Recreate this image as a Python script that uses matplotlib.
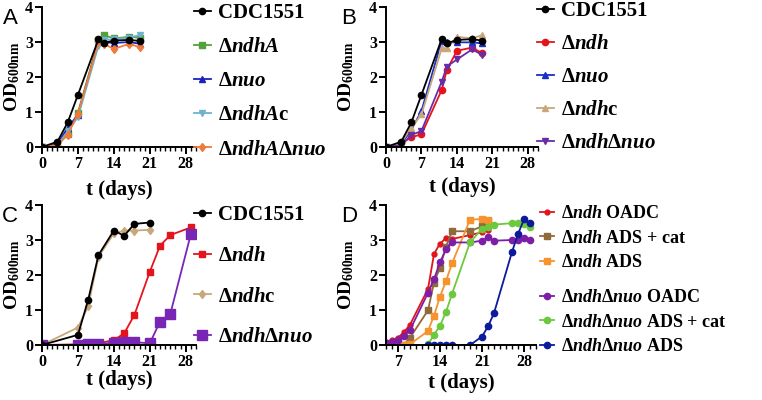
import matplotlib
matplotlib.use("Agg")
import matplotlib.pyplot as plt
from matplotlib.ticker import MultipleLocator

plt.rcParams['font.family'] = 'Liberation Serif'
plt.rcParams['font.weight'] = 'bold'
plt.rcParams['axes.labelweight'] = 'bold'
plt.rcParams['mathtext.fontset'] = 'custom'
plt.rcParams['mathtext.rm'] = 'Liberation Serif:bold'
plt.rcParams['mathtext.it'] = 'Liberation Serif:bold:italic'
plt.rcParams['mathtext.bf'] = 'Liberation Serif:bold'
plt.rcParams['mathtext.default'] = 'rm'

# ---- panel A ----
days_a = [0, 3, 5, 7, 11, 12, 14, 17, 19]
a_cdc = [0, 0.15, 0.70, 1.49, 3.08, 2.97, 3.04, 3.06, 3.03]
a_ndhA = [0, 0.05, 0.38, 0.98, 3.05, 3.20, 3.10, 3.15, 3.12]
a_nuo = [0, 0.08, 0.55, 0.92, 3.00, 3.00, 2.97, 3.00, 2.95]
a_ndhAc = [0, 0.05, 0.45, 0.85, 2.90, 3.05, 3.08, 3.12, 3.20]
a_dbl = [0, 0.05, 0.35, 0.95, 3.00, 2.95, 2.80, 2.95, 2.85]
labels_a = ['CDC1551', r'$\Delta\mathit{ndhA}$', r'$\Delta\mathit{nuo}$',
            r'$\Delta\mathit{ndhA}$c', r'$\Delta\mathit{ndhA}\Delta\mathit{nuo}$']

# ---- panel B ----
days_b = [0, 3, 5, 7, 11, 12, 14, 17, 19]
b_cdc = [0, 0.15, 0.70, 1.49, 3.09, 2.96, 3.06, 3.08, 3.04]
b_ndh = [0, 0.10, 0.28, 0.36, 1.63, 2.20, 2.75, 2.84, 2.68]
b_nuo = [0, 0.08, 0.49, 1.03, 3.04, 2.99, 2.99, 2.99, 2.96]
b_ndhc = [0, 0.12, 0.55, 0.93, 2.82, 2.82, 3.15, 3.10, 3.20]
b_dbl = [0, 0.05, 0.34, 0.46, 1.87, 2.30, 2.50, 2.79, 2.63]
labels_b = ['CDC1551', r'$\Delta\mathit{ndh}$', r'$\Delta\mathit{nuo}$',
            r'$\Delta\mathit{ndh}$c', r'$\Delta\mathit{ndh}\Delta\mathit{nuo}$']

# ---- panel C ----
days_c1 = [0, 7, 9, 11, 14, 16, 18, 21]
c_cdc = [0, 0.29, 1.29, 2.57, 3.27, 3.12, 3.46, 3.50]
c_ndhc = [0, 0.50, 1.11, 2.52, 3.19, 3.27, 3.27, 3.29]
days_c2 = [0, 7, 9, 11, 14, 16, 18, 21, 23, 25, 29]
c_ndh = [0, 0.02, 0.03, 0.05, 0.14, 0.33, 0.86, 2.09, 2.84, 3.14, 3.36]
c_dbl = [0, 0.0, 0.02, 0.02, 0.07, 0.10, 0.08, 0.05, 0.67, 0.89, 3.17]
labels_c = ['CDC1551', r'$\Delta\mathit{ndh}$', r'$\Delta\mathit{ndh}$c',
            r'$\Delta\mathit{ndh}\Delta\mathit{nuo}$']

# ---- panel D ----
days_d1 = [5, 6, 7, 8, 9, 12, 13, 14, 15, 16, 19, 21, 22]
d_ndh_oadc = [0.10, 0.14, 0.21, 0.37, 0.58, 1.60, 2.60, 2.90, 3.05, 3.03, 3.14, 3.22, 3.30]
d_ndh_cat = [0, 0, 0, 0, 0.21, 0.99, 1.78, 2.21, 2.81, 3.25, 3.25, 3.39, 3.54]
d_ndh_ads = [0, 0, 0, 0, 0.02, 0.40, 0.84, 1.38, 1.83, 2.33, 3.58, 3.60, 3.56]
days_d2 = [5, 6, 7, 8, 9, 12, 13, 14, 15, 16, 19, 21, 22, 23, 26, 27, 28, 29]
d_dbl_oadc = [0.05, 0.10, 0.14, 0.26, 0.43, 1.49, 1.88, 2.36, 2.74, 2.93, 2.93, 2.98,
              3.08, 2.98, 3.00, 3.00, 3.06, 3.00]
days_d3 = [12, 13, 14, 15, 16, 19, 21, 22, 23, 26, 27, 28, 29]
d_dbl_cat = [0.02, 0.29, 0.55, 0.94, 1.46, 2.93, 3.32, 3.36, 3.44, 3.48, 3.48, 3.46, 3.37]
d_dbl_ads = [0, 0, 0, 0, 0, 0, 0.24, 0.53, 0.91, 2.66, 3.17, 3.59, 3.49]
labels_d = [r'$\Delta\mathit{ndh}$ OADC', r'$\Delta\mathit{ndh}$ ADS + cat',
            r'$\Delta\mathit{ndh}$ ADS', r'$\Delta\mathit{ndh}\Delta\mathit{nuo}$ OADC',
            r'$\Delta\mathit{ndh}\Delta\mathit{nuo}$ ADS + cat',
            r'$\Delta\mathit{ndh}\Delta\mathit{nuo}$ ADS']

W, H = 762, 400
fig = plt.figure(figsize=(W / 100, H / 100), dpi=100)


def make_ax(left, right, top, bottom):
    return fig.add_axes([left / W, 1 - bottom / H, (right - left) / W, (bottom - top) / H])


def style(ax, x0, ylx, xly):
    ax.set_xlim(x0, 30)
    ax.set_ylim(0, 4)
    ax.set_yticks([0, 1, 2, 3, 4])
    ax.set_xticks([7, 14, 21, 28] if x0 > 0 else [0, 7, 14, 21, 28])
    ax.xaxis.set_minor_locator(MultipleLocator(1))
    for s in ['top', 'right']:
        ax.spines[s].set_visible(False)
    for s in ['left', 'bottom']:
        ax.spines[s].set_linewidth(1.4)
    ax.tick_params(which='major', width=1.4, length=5, labelsize=11.5, pad=1.5)
    ax.tick_params(which='minor', width=1.0, length=3)
    ax.tick_params(axis='y', which='minor', left=False)
    ax.set_ylabel('OD$_{600nm}$', fontsize=14)
    ax.set_xlabel('t (days)', fontsize=15)
    ax.yaxis.set_label_coords(ylx, 0.5)
    ax.xaxis.set_label_coords(0.5, xly)
    for lab in ax.get_xticklabels() + ax.get_yticklabels():
        lab.set_fontweight('bold')


def leg(ax, handles, labels, x, y, size, spacing):
    lg = ax.legend(handles, labels, loc='upper left', bbox_to_anchor=(x / W, 1 - y / H),
                   bbox_transform=fig.transFigure, frameon=False, fontsize=size,
                   handlelength=0.8, handletextpad=0.35, labelspacing=spacing,
                   borderpad=0, borderaxespad=0)
    return lg


ms = 4.5
# A
axA = make_ax(42, 196, 7, 147)
hA = [
    axA.plot(days_a, a_cdc, '-o', color='black', ms=ms, lw=1.3, zorder=5)[0],
    axA.plot(days_a, a_ndhA, '-s', color='#55a03a', ms=ms, lw=1.3)[0],
    axA.plot(days_a, a_nuo, '-^', color='#1c22c0', ms=ms, lw=1.3)[0],
    axA.plot(days_a, a_ndhAc, '-v', color='#6db3cc', ms=ms, lw=1.3)[0],
    axA.plot(days_a, a_dbl, '-d', color='#f07a3a', ms=ms, lw=1.3)[0],
]
style(axA, 0, -0.133, -0.236)
leg(axA, hA, labels_a, 194, 3, 15, 0.68)

# B
axB = make_ax(386, 538, 7, 147)
hB = [
    axB.plot(days_b, b_cdc, '-o', color='black', ms=ms, lw=1.3, zorder=5)[0],
    axB.plot(days_b, b_ndh, '-o', color='#e5141c', ms=ms, lw=1.3)[0],
    axB.plot(days_b, b_nuo, '-^', color='#1a2ec8', ms=ms, lw=1.3)[0],
    axB.plot(days_b, b_ndhc, '-^', color='#c8a87a', ms=ms, lw=1.3)[0],
    axB.plot(days_b, b_dbl, '-v', color='#6a2ca6', ms=ms, lw=1.3)[0],
]
style(axB, 0, -0.2, -0.214)
leg(axB, hB, labels_b, 537, 1, 15, 0.63)

# C
axC = make_ax(42, 196, 205, 345)
hC = [
    axC.plot(days_c1, c_cdc, '-o', color='black', ms=ms, lw=1.3, zorder=5)[0],
    axC.plot(days_c2, c_ndh, '-s', color='#e5141c', ms=ms + 0.5, lw=1.3)[0],
    axC.plot(days_c1, c_ndhc, '-d', color='#c8a87a', ms=ms, lw=1.3)[0],
    axC.plot(days_c2, c_dbl, '-s', color='#7a26b4', ms=ms + 2, lw=1.3)[0],
]
style(axC, 0, -0.133, -0.175)
leg(axC, hC, labels_c, 194, 205, 15, 1.0)

# D
axD = make_ax(386, 536, 205, 345)
hD = [
    axD.plot(days_d1, d_ndh_oadc, '-o', color='#e1141c', ms=3.5, lw=1.3)[0],
    axD.plot(days_d1, d_ndh_cat, '-s', color='#8f6a3a', ms=ms, lw=1.3)[0],
    axD.plot(days_d1, d_ndh_ads, '-s', color='#f5932e', ms=ms, lw=1.3)[0],
    axD.plot(days_d2, d_dbl_oadc, '-o', color='#7c1fa6', ms=ms, lw=1.3)[0],
    axD.plot(days_d3, d_dbl_cat, '-o', color='#6cc83c', ms=ms, lw=1.3)[0],
    axD.plot(days_d3, d_dbl_ads, '-o', color='#0c1a9c', ms=ms, lw=1.3)[0],
]
style(axD, 5, -0.2, -0.2)
lg1 = leg(axD, hD[:3], labels_d[:3], 540, 205, 13, 0.42)
axD.add_artist(lg1)
leg(axD, hD[3:], labels_d[3:], 540, 289, 13, 0.42)

# panel letters
for lab, x, y in [('A', 3, 24), ('B', 341, 24), ('C', 2, 222), ('D', 341, 222)]:
    fig.text(x / W, 1 - y / H, lab, fontsize=16, family='Liberation Sans',
             fontweight='normal')

fig.savefig('out.png', dpi=100)
